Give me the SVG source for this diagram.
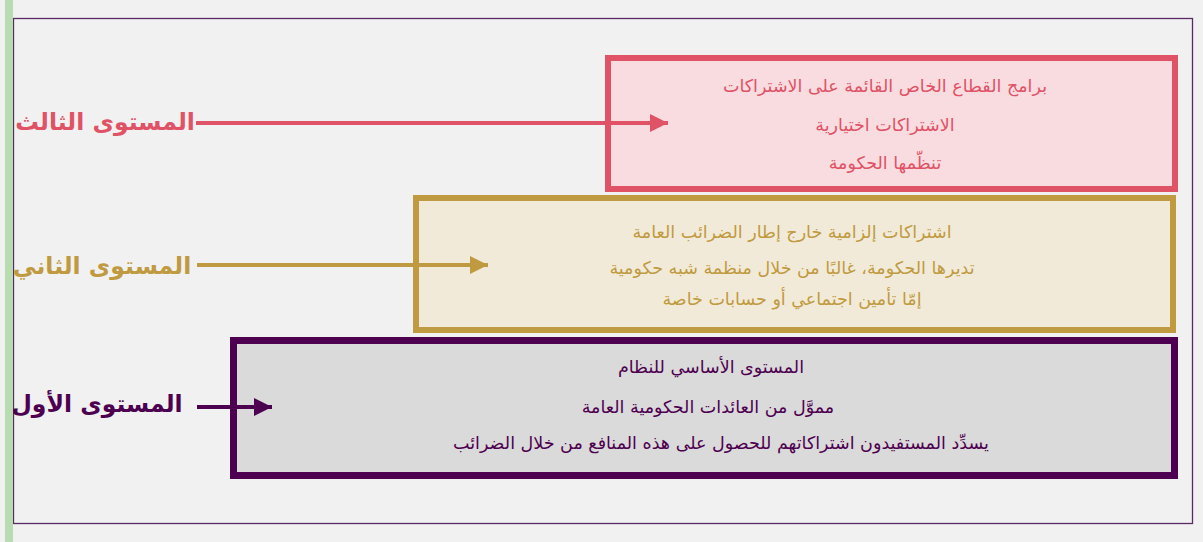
<svg xmlns="http://www.w3.org/2000/svg" width="1203" height="542" viewBox="0 0 1203 542">
<defs>
<style>
.t{font-family:"DejaVu Sans","Noto Sans","Liberation Sans",sans-serif;font-size:17.5px;text-anchor:middle;}
.lbl{font-family:"DejaVu Sans","Noto Sans","Liberation Sans",sans-serif;font-size:23.5px;font-weight:bold;text-anchor:middle;}
.conn{stroke-width:4;fill:none;}
</style>
<marker id="a3" viewBox="0 0 10 10" refX="10" refY="5" markerWidth="4.5" markerHeight="4.5" orient="auto" markerUnits="strokeWidth"><path d="M0,0 L10,5 L0,10 Z" fill="#e05266"/></marker>
<marker id="a2" viewBox="0 0 10 10" refX="10" refY="5" markerWidth="4.5" markerHeight="4.5" orient="auto" markerUnits="strokeWidth"><path d="M0,0 L10,5 L0,10 Z" fill="#c09a40"/></marker>
<marker id="a1" viewBox="0 0 10 10" refX="10" refY="5" markerWidth="4.5" markerHeight="4.5" orient="auto" markerUnits="strokeWidth"><path d="M0,0 L10,5 L0,10 Z" fill="#4e0050"/></marker>
</defs>
<rect x="0" y="0" width="1203" height="542" fill="#f1f1f1"/>
<rect x="13.5" y="18.5" width="1179" height="505" fill="none" stroke="#5a2a66" stroke-width="1.3"/>
<rect x="5" y="0" width="8" height="542" fill="#b7dcb0"/>

<g id="level3">
<rect x="608" y="58" width="567" height="131" fill="#f8dce0" stroke="#e05266" stroke-width="6"/>
<text class="t" x="885" y="92" fill="#e05266" direction="rtl">برامج القطاع الخاص القائمة على الاشتراكات</text>
<text class="t" x="885" y="131" fill="#e05266" direction="rtl">الاشتراكات اختيارية</text>
<text class="t" x="885" y="169" fill="#e05266" direction="rtl">تنظّمها الحكومة</text>
</g>
<g id="level2">
<rect x="416" y="198" width="757" height="132" fill="#f2ead8" stroke="#c09a40" stroke-width="6"/>
<text class="t" x="792" y="238" fill="#c09a40" direction="rtl">اشتراكات إلزامية خارج إطار الضرائب العامة</text>
<text class="t" x="792" y="274" fill="#c09a40" direction="rtl">تديرها الحكومة، غالبًا من خلال منظمة شبه حكومية</text>
<text class="t" x="792" y="305" fill="#c09a40" direction="rtl">إمّا تأمين اجتماعي أو حسابات خاصة</text>
</g>
<g id="level1">
<rect x="233.5" y="340.5" width="941" height="135" fill="#dadada" stroke="#4e0050" stroke-width="7"/>
<text class="t" x="711" y="373" fill="#4e0050" direction="rtl">المستوى الأساسي للنظام</text>
<text class="t" x="708" y="413" fill="#4e0050" direction="rtl">مموَّل من العائدات الحكومية العامة</text>
<text class="t" x="721" y="449" fill="#4e0050" direction="rtl">يسدِّد المستفيدون اشتراكاتهم للحصول على هذه المنافع من خلال الضرائب</text>
</g>

<g id="label3"><text class="lbl" x="105" y="130" fill="#e05266" direction="rtl">المستوى الثالث</text></g>
<g id="label2"><text class="lbl" x="102" y="274" fill="#c09a40" direction="rtl">المستوى الثاني</text></g>
<g id="label1"><text class="lbl" x="97" y="412" fill="#4e0050" direction="rtl">المستوى الأول</text></g>

<g id="connectors">
<line class="conn" x1="196" y1="123" x2="668" y2="123" stroke="#e05266" marker-end="url(#a3)"/>
<line class="conn" x1="197" y1="265" x2="488" y2="265" stroke="#c09a40" marker-end="url(#a2)"/>
<line class="conn" x1="197" y1="407" x2="272" y2="407" stroke="#4e0050" marker-end="url(#a1)"/>
</g>
</svg>
